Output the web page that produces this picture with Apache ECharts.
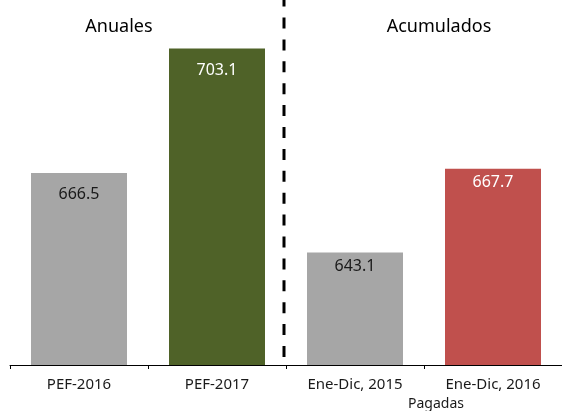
<!DOCTYPE html>
<html>
<head>
<meta charset="utf-8">
<script src="https://cdn.jsdelivr.net/npm/echarts@6/dist/echarts.min.js"></script>
<style>
  html, body { margin: 0; padding: 0; background: #fff; }
  #main { width: 562px; height: 411px; }
</style>
</head>
<body>
<div id="main"></div>
<script>
// data
const categories = ['PEF-2016', 'PEF-2017', 'Ene-Dic, 2015', 'Ene-Dic, 2016'];
const values = [666.5, 703.1, 643.1, 667.7];
const groupTitles = ['Anuales', 'Acumulados'];
const groupSubLabel = 'Pagadas';

// styles per bar
const barColors = ['#a6a6a6', '#4f6228', '#a6a6a6', '#c0504d'];
const labelColors = ['#1a1a1a', '#ffffff', '#1a1a1a', '#ffffff'];
const labelDist = [14, 14, 6, 6];

const FONT = '"Noto Sans", "Open Sans", sans-serif';

const chart = echarts.init(document.getElementById('main'));

const option = {
  animation: false,
  grid: {
    left: 10,
    top: 25,
    width: 555,
    bottom: 46,
  },
  xAxis: {
    type: 'category',
    data: categories,
    axisLine: { lineStyle: { color: '#000', width: 1 } },
    axisTick: { show: true, length: 4, lineStyle: { color: '#000' } },
    axisLabel: {
      color: '#1a1a1a',
      fontFamily: FONT,
      fontSize: 15,
      margin: 12,
    },
  },
  yAxis: {
    type: 'value',
    min: 610,
    max: 710,
    show: false,
  },
  series: [
    {
      type: 'bar',
      barWidth: 96,
      data: values.map((v, i) => ({
        value: v,
        itemStyle: { color: barColors[i] },
        label: { color: labelColors[i], distance: labelDist[i] },
      })),
      label: {
        show: true,
        position: 'insideTop',
        fontFamily: FONT,
        fontSize: 16,
        formatter: (p) => p.value.toFixed(1),
      },
    },
  ],
};

chart.setOption(option);

// divider between the two groups, placed from the axis scale
const c1 = chart.convertToPixel({ xAxisIndex: 0 }, 1);
const c2 = chart.convertToPixel({ xAxisIndex: 0 }, 2);
const divX = (c1 + c2) / 2 - 2;

chart.setOption({
  graphic: [
    {
      type: 'line',
      shape: { x1: divX, y1: 357, x2: divX, y2: -10 },
      style: { stroke: '#000', lineWidth: 3, lineDash: [11, 10.9] },
      z: 10,
    },
    {
      type: 'text',
      x: 119,
      y: 27,
      style: {
        text: groupTitles[0],
        fontFamily: FONT,
        fontSize: 18,
        fill: '#000',
        align: 'center',
        verticalAlign: 'middle',
      },
    },
    {
      type: 'text',
      x: 439,
      y: 27,
      style: {
        text: groupTitles[1],
        fontFamily: FONT,
        fontSize: 18,
        fill: '#000',
        align: 'center',
        verticalAlign: 'middle',
      },
    },
    {
      type: 'text',
      x: 436,
      y: 404,
      style: {
        text: groupSubLabel,
        fontFamily: FONT,
        fontSize: 14,
        fill: '#1a1a1a',
        align: 'center',
        verticalAlign: 'middle',
      },
    },
  ],
});
</script>
</body>
</html>
